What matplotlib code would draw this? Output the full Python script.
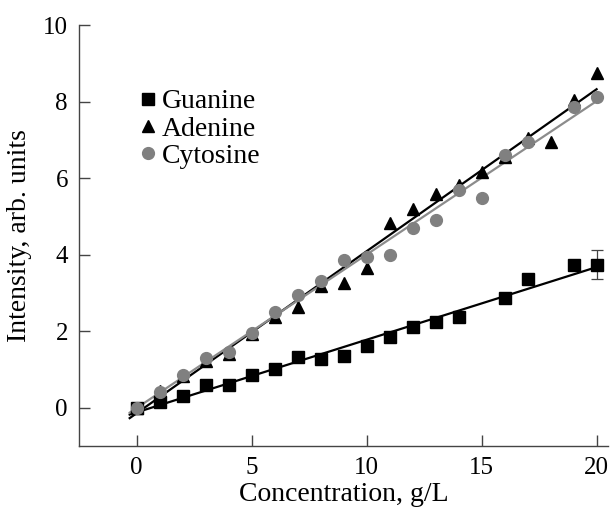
import numpy as np
from matplotlib import pyplot as plt

plt.rcParams['font.family'] = ['Liberation Serif', 'DejaVu Serif']
plt.rcParams['font.size'] = 18

# guanine (squares)
x_gua = [0, 1, 2, 3, 4, 5, 6, 7, 8, 9, 10, 11, 12, 13, 14, 16, 17, 19, 20]
y_gua = [0.0, 0.16, 0.30, 0.59, 0.59, 0.86, 1.01, 1.32, 1.26, 1.34, 1.60,
         1.84, 2.10, 2.23, 2.38, 2.86, 3.37, 3.72, 3.74]
err_x = [20]
err_y = [3.74]
err_val = [0.37]

# adenine (triangles)
x_ade = [0, 1, 2, 3, 4, 5, 6, 7, 8, 9, 10, 11, 12, 13, 14, 15, 16, 17, 18, 19, 20]
y_ade = [0.0, 0.44, 0.82, 1.23, 1.40, 1.93, 2.38, 2.64, 3.17, 3.26, 3.66,
         4.82, 5.20, 5.59, 5.81, 6.16, 6.55, 7.06, 6.95, 8.05, 8.75]

# cytosine (circles)
x_cyt = [0, 1, 2, 3, 4, 5, 6, 7, 8, 9, 10, 11, 12, 13, 14, 15, 16, 17, 19, 20]
y_cyt = [0.0, 0.40, 0.85, 1.29, 1.45, 1.96, 2.50, 2.95, 3.30, 3.87, 3.95,
         4.00, 4.70, 4.90, 5.70, 5.49, 6.60, 6.95, 7.85, 8.12]

fig = plt.figure(figsize=(6.13, 5.12), dpi=100)
ax = fig.add_axes([0.129, 0.129, 0.863, 0.822])

xx = np.array([-0.3, 20])

# fitted lines
k, b = np.polyfit(x_gua, y_gua, 1)
ax.plot(xx, k * xx + b, color='black', lw=1.6, zorder=2)
k, b = np.polyfit(x_ade, y_ade, 1)
ax.plot(xx, k * xx + b, color='black', lw=1.6, zorder=2)
k, b = np.polyfit(x_cyt, y_cyt, 1)
ax.plot(xx, k * xx + b, color='#8c8c8c', lw=1.6, zorder=2)

ax.errorbar(err_x, err_y, yerr=err_val, fmt='none', ecolor='#444444',
            elinewidth=0.9, capsize=4, capthick=0.9, zorder=3)
ax.plot(x_gua, y_gua, 's', color='black', ms=8, label='Guanine', zorder=4)
ax.plot(x_ade, y_ade, '^', color='black', ms=9, label='Adenine', zorder=4)
ax.plot(x_cyt, y_cyt, 'o', color='#808080', mec='#808080', ms=8.5, label='Cytosine', zorder=5)

ax.set_xlim(-2.5, 20.5)
ax.set_ylim(-1, 10)
ax.set_xticks([0, 5, 10, 15, 20])
ax.set_yticks([0, 2, 4, 6, 8, 10])
ax.spines['top'].set_visible(False)
ax.spines['right'].set_visible(False)
for s in ['left', 'bottom']:
    ax.spines[s].set_color('#444444')
    ax.spines[s].set_linewidth(1.0)
ax.tick_params(direction='in', length=8, width=1.0, color='#444444', pad=8,
               labelsize=18)

ax.set_xlabel('Concentration, g/L', fontsize=20, labelpad=2)
ax.set_ylabel('Intensity, arb. units', fontsize=20, labelpad=8)

ax.legend(loc='upper left', bbox_to_anchor=(0.09, 0.875), frameon=False,
          fontsize=20, handlelength=0.7, handletextpad=0.15, labelspacing=0.07,
          borderaxespad=0)

fig.savefig('out.png', dpi=100)
